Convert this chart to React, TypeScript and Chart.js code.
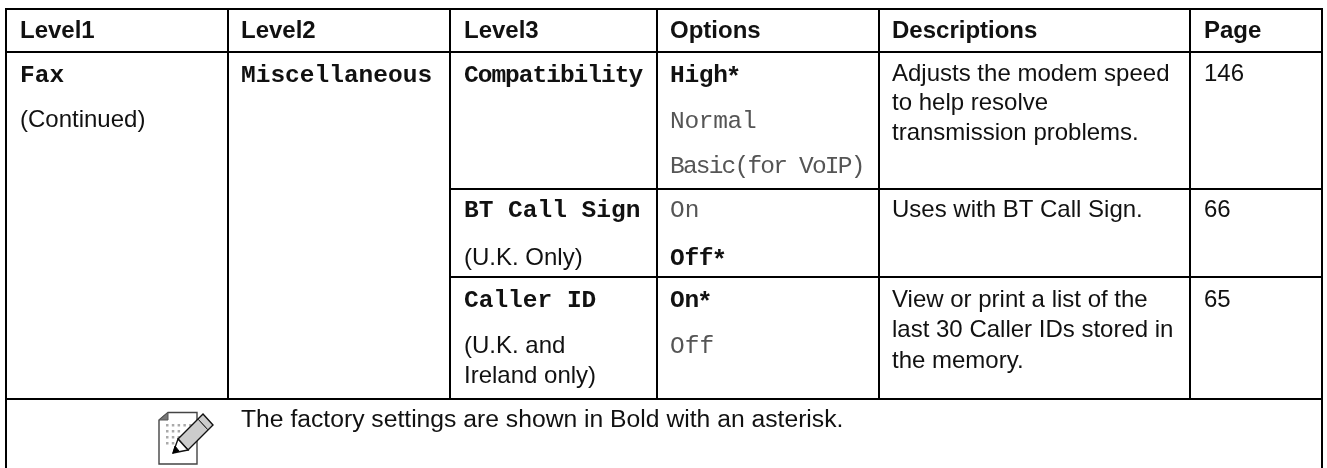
import React, { useEffect, useRef } from "react";
import { Chart, registerables } from "chart.js";

Chart.register(...registerables);

const W = 1327;
const H = 468;
const SANS = '"Liberation Sans", Arial, sans-serif';
const MONO = '"Liberation Mono", "Courier New", monospace';

const headers = ["Level1", "Level2", "Level3", "Options", "Descriptions", "Page"];
const headerX = [20, 241, 464, 670, 892, 1204];
const verticalX = [6, 228, 450, 657, 879, 1190, 1322];
const horizontalY = [9, 52, 399];
const innerRowY = [189, 277];
const SANS_SIZE = 24;
const MONO_SIZE = 24.5;
const NOTE_SIZE = 24.7;
const dotCounts = [5, 3, 3, 2];

type Cell = [string, number, number, string, string?, number?];
// text, x, baseline y, style (m: mono bold, o: mono, s: sans, n: note), superscript, letter spacing
const cells: Cell[] = [
  ["Fax", 20, 82, "m"],
  ["(Continued)", 20, 127, "s"],
  ["Miscellaneous", 241, 82, "m"],
  ["Compatibility", 464, 82, "m", undefined, -1],
  ["High", 670, 82, "m", "*", -0.3],
  ["Normal", 670, 128, "o", undefined, -0.3],
  ["Basic(for VoIP)", 670, 173, "o", undefined, -1.8],
  ["Adjusts the modem speed", 892, 81, "s"],
  ["to help resolve", 892, 110, "s"],
  ["transmission problems.", 892, 140, "s"],
  ["146", 1204, 81, "s"],
  ["BT Call Sign", 464, 217, "m"],
  ["(U.K. Only)", 464, 265, "s"],
  ["On", 670, 217, "o"],
  ["Off", 670, 265, "m", "*", -0.3],
  ["Uses with BT Call Sign.", 892, 217, "s"],
  ["66", 1204, 217, "s"],
  ["Caller ID", 464, 307, "m"],
  ["(U.K. and", 464, 353, "s"],
  ["Ireland only)", 464, 383, "s"],
  ["On", 670, 307, "m", "*", -0.3],
  ["Off", 670, 353, "o"],
  ["View or print a list of the", 892, 307, "s"],
  ["last 30 Caller IDs stored in", 892, 337, "s"],
  ["the memory.", 892, 368, "s"],
  ["65", 1204, 307, "s"],
  ["The factory settings are shown in Bold with an asterisk.", 241, 427, "n"],
];

const tablePlugin = {
  id: "table",
  afterDraw(chart: any) {
    const { ctx } = chart;
    const X = (v: number) => chart.scales.x.getPixelForValue(v);
    const Y = (v: number) => chart.scales.y.getPixelForValue(v);
    ctx.save();
    ctx.strokeStyle = "#000";
    ctx.lineWidth = 2;
    const seg = (a: number, b: number, c: number, d: number) => {
      ctx.beginPath();
      ctx.moveTo(X(a), Y(b));
      ctx.lineTo(X(c), Y(d));
      ctx.stroke();
    };
    seg(verticalX[0], horizontalY[0] - 1, verticalX[0], H);
    seg(verticalX[6], horizontalY[0] - 1, verticalX[6], H);
    verticalX.slice(1, 6).forEach((x) => seg(x, horizontalY[0], x, horizontalY[2]));
    horizontalY.forEach((y) => seg(verticalX[0], y, verticalX[6], y));
    innerRowY.forEach((y) => seg(verticalX[2], y, verticalX[6], y));

    ctx.fillStyle = "#111";
    ctx.textBaseline = "alphabetic";
    ctx.textAlign = "left";
    ctx.font = `bold ${SANS_SIZE}px ${SANS}`;
    headers.forEach((h, i) => ctx.fillText(h, X(headerX[i]), Y(38)));
    cells.forEach(([t, x, y, style, sup, spacing]) => {
      ctx.font =
        style === "m"
          ? `bold ${MONO_SIZE}px ${MONO}`
          : style === "o"
          ? `${MONO_SIZE}px ${MONO}`
          : style === "n"
          ? `${NOTE_SIZE}px ${SANS}`
          : `${SANS_SIZE}px ${SANS}`;
      ctx.letterSpacing = `${spacing ?? 0}px`;
      ctx.fillStyle = style === "o" ? "#555" : "#111";
      ctx.fillText(t, X(x), Y(y));
      const w = ctx.measureText(t).width;
      ctx.letterSpacing = "0px";
      if (sup) {
        ctx.font = `bold 26px ${SANS}`;
        ctx.fillStyle = "#111";
        ctx.fillText(sup, X(x) + w + 1, Y(y + 2));
      }
    });

    // note icon
    const P = (pts: number[][], fill: string | null, stroke: string | null, lw = 1) => {
      ctx.beginPath();
      pts.forEach(([a, b], i) => (i ? ctx.lineTo(X(a), Y(b)) : ctx.moveTo(X(a), Y(b))));
      ctx.closePath();
      if (fill) {
        ctx.fillStyle = fill;
        ctx.fill();
      }
      if (stroke) {
        ctx.strokeStyle = stroke;
        ctx.lineWidth = lw;
        ctx.stroke();
      }
    };
    P([[168, 412.5], [197, 412.5], [197, 464], [159, 464], [159, 420]], "#fff", "#444", 1.4);
    P([[168, 412.5], [168, 420], [159, 420]], "#777", "#555", 1);
    ctx.fillStyle = "#aaa";
    dotCounts.forEach((n, r) => {
      for (let c = 0; c < n; c++) ctx.fillRect(X(166 + c * 5.8), Y(424 + r * 6), 2.5, 2.5);
    });
    P([[203, 414], [213, 425], [188, 450], [178, 439]], "#ccc", "#111", 1.4);
    P([[198, 419], [208, 430]], null, "#333", 1);
    P([[178, 439], [188, 450], [173, 453]], "#fff", "#111", 1.4);
    P([[175, 446], [179, 451], [173, 453]], "#000", "#000", 1);
    ctx.restore();
  },
};

export default function App() {
  const ref = useRef<HTMLCanvasElement | null>(null);
  useEffect(() => {
    document.body.style.margin = "0";
    document.body.style.background = "#fff";
    const chart = new Chart(ref.current!, {
      type: "scatter",
      data: { datasets: [{ data: [] }] },
      options: {
        animation: false,
        responsive: false,
        layout: { padding: 0 },
        plugins: { legend: { display: false }, tooltip: { enabled: false } },
        scales: {
          x: { type: "linear", min: 0, max: W, display: false },
          y: { type: "linear", min: 0, max: H, reverse: true, display: false },
        },
      },
      plugins: [tablePlugin],
    });
    return () => chart.destroy();
  }, []);
  return <canvas ref={ref} width={W} height={H} style={{ display: "block", width: W, height: H }} />;
}
